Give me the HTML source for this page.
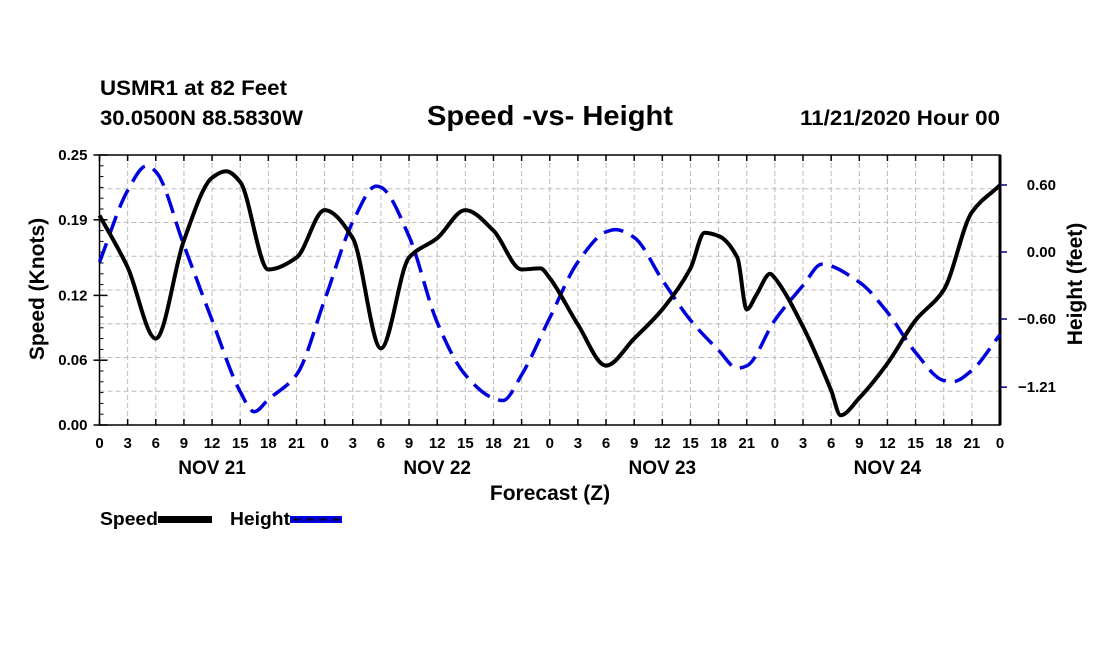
<!DOCTYPE html>
<html><head><meta charset="utf-8"><style>
body{margin:0;background:#fff;}
svg{display:block;font-family:"Liberation Sans",sans-serif;font-weight:bold;}
</style></head><body>
<svg id="chart" width="1100" height="650" viewBox="0 0 1100 650">
<text x="100" y="95" font-size="21" textLength="187" lengthAdjust="spacingAndGlyphs">USMR1 at 82 Feet</text>
<text x="100" y="125" font-size="21" textLength="203" lengthAdjust="spacingAndGlyphs">30.0500N 88.5830W</text>
<text x="427" y="125" font-size="28" textLength="246" lengthAdjust="spacingAndGlyphs">Speed -vs- Height</text>
<text x="800" y="125" font-size="21" textLength="200" lengthAdjust="spacingAndGlyphs">11/21/2020 Hour 00</text>
<g id="grid"></g>
<g id="axes"></g>
<g id="series"></g>
<text transform="translate(44,289) rotate(-90)" font-size="21" text-anchor="middle">Speed (Knots)</text>
<text transform="translate(1082,284) rotate(-90)" font-size="21" text-anchor="middle">Height (feet)</text>
<text x="550" y="500" font-size="21" text-anchor="middle">Forecast (Z)</text>
<g>
<text x="100" y="525" font-size="18" textLength="58" lengthAdjust="spacingAndGlyphs">Speed</text>
<rect x="158" y="516" width="54" height="7" fill="#000"/>
<text x="230" y="525" font-size="18" textLength="60" lengthAdjust="spacingAndGlyphs">Height</text>
<rect x="290" y="516" width="52" height="7" fill="#0000dd"/>
<line x1="293" y1="519.5" x2="342" y2="519.5" stroke="#000033" stroke-width="2" stroke-dasharray="8,5"/>
</g>
</svg>
<script>
const speedHours=[0,3,6,9,12,13.5,15,18,21,24,27,30,33,36,39,42,45,47,48,51,54,57,60,63,64.5,66,68,69,70,71.5,72,75,78,79,81,84,87,90,93,96];
const speedValues=[0.194,0.146,0.08,0.171,0.229,0.235,0.225,0.144,0.155,0.199,0.173,0.071,0.155,0.173,0.199,0.18,0.144,0.145,0.136,0.093,0.055,0.08,0.107,0.145,0.178,0.175,0.155,0.107,0.12,0.14,0.136,0.091,0.032,0.009,0.025,0.057,0.097,0.125,0.197,0.222];
const heightHours=[0,3,5,6,9,12,15,16.5,18,21,24,27,29.5,30,33,36,39,42,43,45,48,51,54,55,57,60,63,66,68,69,72,75,77,81,84,87,90,91,93,96];
const heightValues=[-0.09,0.55,0.77,0.72,0.06,-0.61,-1.25,-1.43,-1.32,-1.1,-0.43,0.27,0.59,0.58,0.14,-0.63,-1.1,-1.31,-1.33,-1.1,-0.59,-0.09,0.18,0.2,0.13,-0.25,-0.61,-0.88,-1.04,-1.02,-0.61,-0.3,-0.11,-0.27,-0.54,-0.9,-1.15,-1.16,-1.06,-0.74];
const speedTicks=[0,0.06,0.12,0.19,0.25];
const speedTickLabels=["0.00","0.06","0.12","0.19","0.25"];
const heightTicks=[0.6,0,-0.6,-1.21];
const heightTickLabels=["0.60","0.00","-0.60","-1.21"];
const dayLabels=["NOV 21","NOV 22","NOV 23","NOV 24"];

const NS="http://www.w3.org/2000/svg";
const L=99.5,R=1000,T=155,B=425;
const xS=h=>L+(R-L)*h/96;
const yS=s=>B-(B-T)*s/0.25;
const yH=h=>252-h*111.7;
function mk(tag,attrs,parent){const e=document.createElementNS(NS,tag);for(const k in attrs)e.setAttribute(k,attrs[k]);parent.appendChild(e);return e;}
const grid=document.getElementById('grid'),axes=document.getElementById('axes'),series=document.getElementById('series');
for(let h=3;h<96;h+=3){const g=mk('line',{x1:xS(h),x2:xS(h),y1:T,y2:B,stroke:'#bbb','stroke-width':1,'stroke-dasharray':'5,3'},grid);

}
for(let i=1;i<8;i++){const y=T+(B-T)*i/8;const g=mk('line',{x1:L,x2:R,y1:y,y2:y,stroke:'#bbb','stroke-width':1,'stroke-dasharray':'5,3'},grid);

}
mk('rect',{x:L,y:T,width:R-L,height:B-T,fill:'none',stroke:'#000','stroke-width':1.5},axes);
mk('line',{x1:R,x2:R,y1:T,y2:B,stroke:'#000','stroke-width':3},axes);
for(let h=0;h<=96;h+=3){
  mk('line',{x1:xS(h),x2:xS(h),y1:B,y2:B-6,stroke:'#000','stroke-width':1.5},axes);
  mk('line',{x1:xS(h),x2:xS(h),y1:T,y2:T+6,stroke:'#000','stroke-width':1.5},axes);
  const t=mk('text',{x:xS(h),y:B+23,'font-size':15,'text-anchor':'middle'},axes);t.textContent=String(h%24);
  
  
}
dayLabels.forEach((d,i)=>{const t=mk('text',{x:xS(12+24*i),y:B+49,'font-size':19,'text-anchor':'middle'},axes);t.textContent=d;

});
for(let i=0;i<=25;i++){const y=T+(B-T)*i/25;mk('line',{x1:L,x2:L+4,y1:y,y2:y,stroke:'#000','stroke-width':1},axes);}
speedTicks.forEach((v,i)=>{const y=yS(v);mk('line',{x1:L-6,x2:L+8,y1:y,y2:y,stroke:'#000','stroke-width':1.5},axes);
const t=mk('text',{x:L-12,y:y+5,'font-size':15,'text-anchor':'end'},axes);t.textContent=speedTickLabels[i];

});
heightTicks.forEach((v,i)=>{const y=yH(v);mk('line',{x1:R,x2:R+7,y1:y,y2:y,stroke:'#000080','stroke-width':1.5},axes);
const t=mk('text',{x:R+56,y:y+5,'font-size':15,'text-anchor':'end'},axes);t.textContent=heightTickLabels[i].replace('-','\u2212');

});
function path(pts){
  const n=pts.length,d=[],m=new Array(n);
  for(let i=0;i<n-1;i++)d.push((pts[i+1][1]-pts[i][1])/(pts[i+1][0]-pts[i][0]));
  m[0]=d[0];m[n-1]=d[n-2];
  for(let i=1;i<n-1;i++){m[i]=(d[i-1]*d[i]<=0)?0:2/(1/d[i-1]+1/d[i]);}
  let s='M'+pts[0][0]+','+pts[0][1];
  for(let i=0;i<n-1;i++){const h=pts[i+1][0]-pts[i][0];
    s+=` C${pts[i][0]+h/3},${pts[i][1]+m[i]*h/3} ${pts[i+1][0]-h/3},${pts[i+1][1]-m[i+1]*h/3} ${pts[i+1][0]},${pts[i+1][1]}`;}
  return s;}
const hp=mk('path',{d:path(heightHours.map((h,i)=>[xS(h),yH(heightValues[i])])),fill:'none',stroke:'#0000dd','stroke-width':3.5,'stroke-dasharray':'20,9'},series);


const sp=mk('path',{d:path(speedHours.map((h,i)=>[xS(h),yS(speedValues[i])])),fill:'none',stroke:'#000','stroke-width':4,'stroke-linejoin':'round'},series);


</script>
</body></html>
